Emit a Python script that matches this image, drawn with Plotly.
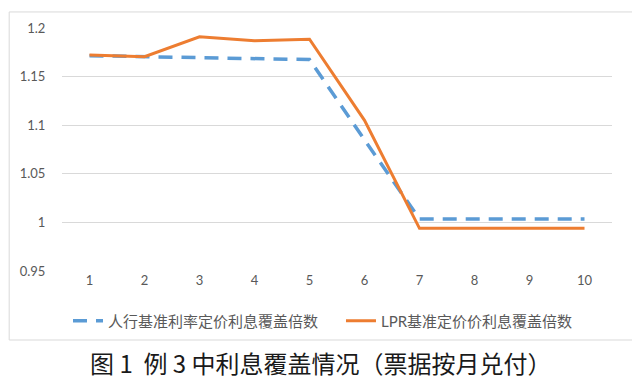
import plotly.graph_objects as go

months = [1, 2, 3, 4, 5, 6, 7, 8, 9, 10]
pboc_cov = [1.1715, 1.1705, 1.169, 1.1685, 1.1675, 1.085, 1.0034, 1.0034, 1.0034, 1.0034]
lpr_cov = [1.1723, 1.1705, 1.191, 1.187, 1.1885, 1.105, 0.9939, 0.9939, 0.9939, 0.9939]
y_ticks = [0.95, 1.0, 1.05, 1.1, 1.15, 1.2]
y_labels = ["0.95", "1", "1.05", "1.1", "1.15", "1.2"]

name_pboc = "人行基准利率定价利息覆盖倍数"
name_lpr = "LPR基准定价价利息覆盖倍数"
title_text = "图 1  例 3 中利息覆盖情况（票据按月兑付）"

font_fam = "Lato, 'Noto Sans CJK SC', sans-serif"

# page body has an 8px margin; offsets below compensate for it
fig = go.Figure()
fig.add_trace(go.Scatter(
    x=months, y=pboc_cov, mode="lines", name=name_pboc,
    line=dict(color="#5B9BD5", width=3.5, dash="14px,9px"),
))
fig.add_trace(go.Scatter(
    x=months, y=lpr_cov, mode="lines", name=name_lpr,
    line=dict(color="#ED7D31", width=3),
))

fig.update_layout(
    width=640, height=388,
    margin=dict(l=52, r=36, t=20, b=125),
    paper_bgcolor="white", plot_bgcolor="white",
    showlegend=True,
    legend=dict(
        orientation="h", x=(340 - 60) / 552, xanchor="center",
        y=(271 - 321) / 243, yanchor="middle",
        font=dict(family=font_fam, size=15, color="#595959"),
        traceorder="normal", entrywidth=228, entrywidthmode="pixels",
    ),
    xaxis=dict(
        range=[0.5, 10.5], tickmode="array", tickvals=months,
        ticktext=[str(m) for m in months],
        showgrid=False, zeroline=False, showline=False, ticks="",
        tickfont=dict(family=font_fam, size=13, color="#595959"),
        fixedrange=True,
    ),
    yaxis=dict(
        range=[0.95, 1.2], tickmode="array", tickvals=y_ticks, ticktext=y_labels,
        showgrid=True, gridcolor="#D9D9D9", gridwidth=1, zeroline=False,
        showline=False, ticks="outside", ticklen=13, tickcolor="rgba(0,0,0,0)",
        tickfont=dict(family=font_fam, size=13, color="#595959"),
        fixedrange=True,
    ),
)

# chart outer border
fig.add_shape(type="rect", xref="paper", yref="paper",
              x0=-0.096, x1=1.04, y0=-0.284, y1=1.066,
              line=dict(color="#D9D9D9", width=1), fillcolor="rgba(0,0,0,0)",
              layer="below")

fig.add_annotation(
    text=title_text, xref="paper", yref="paper",
    x=(320 - 60) / 552, y=(271 - 362) / 243, xanchor="center", yanchor="middle",
    showarrow=False,
    font=dict(family="'Noto Sans CJK SC', sans-serif", size=24, color="#1a1a1a"),
)

fig.write_html("out.html")
